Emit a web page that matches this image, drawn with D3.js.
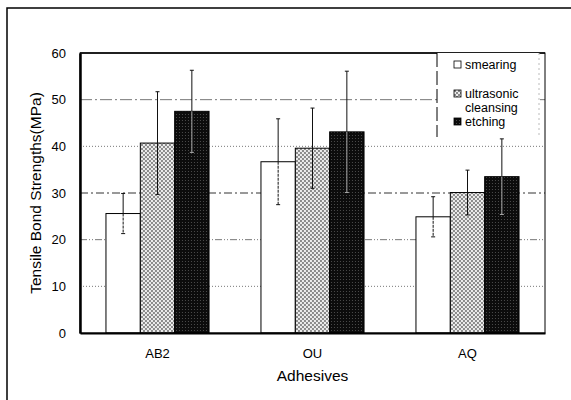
<!DOCTYPE html>
<html>
<head>
<meta charset="utf-8">
<script src="https://cdn.jsdelivr.net/npm/d3@7"></script>
<style>
  body { margin: 0; background: #fff; }
  svg { font-family: "Liberation Sans", Arial, sans-serif; }
</style>
</head>
<body>
<div class="chart"></div>
<script>
// data
const adhesives = ["AB2", "OU", "AQ"];
const methods = ["smearing", "ultrasonic cleansing", "etching"];
const smearing = [25.6, 36.7, 24.9];
const ultrasonic = [40.7, 39.6, 30.1];
const etching = [47.5, 43.1, 33.5];
const smearingSD = [4.3, 9.2, 4.3];
const ultrasonicSD = [11.0, 8.6, 4.8];
const etchingSD = [8.8, 13.0, 8.1];
const yTicks = [0, 10, 20, 30, 40, 50, 60];

const W = 571, H = 400;
const margin = ({top: 53, right: 26, bottom: 67, left: 80});
const w = W - margin.left - margin.right,
      h = H - margin.top - margin.bottom;

const svg = d3.select(".chart").append("svg")
    .attr("width", W).attr("height", H);

// patterns for the fills
const defs = svg.append("defs");
const hatch = defs.append("pattern")
    .attr("id", "hatch").attr("patternUnits", "userSpaceOnUse")
    .attr("width", 4).attr("height", 4);
hatch.append("rect").attr("width", 4).attr("height", 4).attr("fill", "#ececec");
hatch.append("path").attr("d", "M0,0L4,4M4,0L0,4")
    .attr("stroke", "#808080").attr("stroke-width", 0.9);

const dark = defs.append("pattern")
    .attr("id", "dark").attr("patternUnits", "userSpaceOnUse")
    .attr("width", 3).attr("height", 3);
dark.append("rect").attr("width", 3).attr("height", 3).attr("fill", "#0c0c0c");
dark.append("rect").attr("x", 1).attr("y", 1).attr("width", 1).attr("height", 1).attr("fill", "#4a4a4a");

const fills = ["#fff", "url(#hatch)", "url(#dark)"];

// outer frame (left + top only)
svg.append("path").attr("d", `M7,400V8H571`)
    .attr("fill", "none").attr("stroke", "#000").attr("stroke-width", 1.5);

const g = svg.append("g")
    .attr("transform", `translate(${margin.left},${margin.top})`);

// scales
const x0 = d3.scaleBand().domain(adhesives).range([0, w])
    .paddingInner(0.335).paddingOuter(0.1675);
const x1 = d3.scaleBand().domain(methods).range([0, x0.bandwidth()]);
const y = d3.scaleLinear().domain([0, 60]).range([h, 0]);

// grid lines
const dashes = {10: "1,2", 20: "7,2,1,2,1,2", 30: "8,3,2,3", 40: "1,2", 50: "12,3,2,3"};
g.selectAll(".grid").data(yTicks.filter(d => d > 0 && d < 60)).enter()
    .append("line").attr("class", "grid")
    .attr("x1", 0).attr("x2", w)
    .attr("y1", d => y(d)).attr("y2", d => y(d))
    .attr("stroke", d => d === 30 ? "#333" : "#777")
    .attr("stroke-width", 1)
    .attr("stroke-dasharray", d => dashes[d]);

// bars
const rows = adhesives.map((a, i) => ({
  adhesive: a,
  vals: [
    {m: methods[0], v: smearing[i], sd: smearingSD[i], s: 0},
    {m: methods[1], v: ultrasonic[i], sd: ultrasonicSD[i], s: 1},
    {m: methods[2], v: etching[i], sd: etchingSD[i], s: 2}
  ]
}));

const groups = g.selectAll(".grp").data(rows).enter()
    .append("g").attr("class", "grp")
    .attr("transform", d => `translate(${x0(d.adhesive)},0)`);

groups.selectAll("rect").data(d => d.vals).enter()
    .append("rect")
    .attr("x", d => x1(d.m))
    .attr("width", x1.bandwidth())
    .attr("y", d => y(d.v))
    .attr("height", d => h - y(d.v))
    .attr("fill", d => fills[d.s])
    .attr("stroke", "#000")
    .attr("stroke-width", 1);

// error bars
const eb = groups.selectAll(".err").data(d => d.vals).enter()
    .append("g").attr("class", "err")
    .attr("transform", d => `translate(${x1(d.m) + x1.bandwidth() / 2},0)`);
eb.append("line")
    .attr("y1", d => y(d.v)).attr("y2", d => y(d.v + d.sd))
    .attr("stroke", "#111");
eb.append("line")
    .attr("y1", d => y(d.v)).attr("y2", d => y(d.v - d.sd))
    .attr("stroke", d => d.s === 2 ? "#aaa" : "#111")
    .attr("stroke-dasharray", d => d.s === 0 ? "3,1" : null);
eb.append("line")
    .attr("x1", -2).attr("x2", 2)
    .attr("y1", d => y(d.v + d.sd)).attr("y2", d => y(d.v + d.sd))
    .attr("stroke", "#111");
eb.append("line")
    .attr("x1", -2).attr("x2", 2)
    .attr("y1", d => y(d.v - d.sd)).attr("y2", d => y(d.v - d.sd))
    .attr("stroke", d => d.s === 2 ? "#aaa" : "#111");

// plot frame
g.append("rect").attr("width", w).attr("height", h)
    .attr("fill", "none").attr("stroke", "#000").attr("stroke-width", 1);
g.append("line").attr("x2", w).attr("stroke", "#000").attr("stroke-width", 1.5);

// axes
const yAxis = d3.axisLeft(y).tickValues(yTicks).tickSize(0).tickPadding(14);
g.append("g").attr("class", "axis y-axis").call(yAxis)
    .call(s => s.select(".domain").attr("stroke-width", 2.5))
    .selectAll("text").attr("font-size", 13).attr("fill", "#000");

const xAxis = d3.axisBottom(x0).tickSize(0).tickPadding(16);
g.append("g").attr("class", "axis x-axis")
    .attr("transform", `translate(0,${h})`).call(xAxis)
    .call(s => s.select(".domain").attr("stroke-width", 2))
    .selectAll("text").attr("font-size", 13).attr("fill", "#000");

// axis titles
svg.append("text")
    .attr("transform", `translate(41,${margin.top + h / 2}) rotate(-90)`)
    .attr("text-anchor", "middle")
    .attr("font-size", 15.5)
    .text("Tensile Bond Strengths(MPa)");

svg.append("text")
    .attr("x", margin.left + w / 2).attr("y", 381)
    .attr("text-anchor", "middle")
    .attr("font-size", 15.5)
    .text("Adhesives");

// legend
const lg = svg.append("g").attr("transform", "translate(437,53)");
lg.append("rect").attr("width", 102).attr("height", 84).attr("fill", "#fff");
lg.append("line").attr("y1", 0).attr("y2", 84)
    .attr("stroke", "#000").attr("stroke-dasharray", "14,4");
lg.append("line").attr("x1", 102).attr("x2", 102).attr("y1", 0).attr("y2", 84)
    .attr("stroke", "#bbb").attr("stroke-dasharray", "2,3");

const legendItems = [
  {lines: ["smearing"], y: 12, s: 0},
  {lines: ["ultrasonic", "cleansing"], y: 41, s: 1},
  {lines: ["etching"], y: 69, s: 2}
];
legendItems.forEach(it => {
  lg.append("rect")
      .attr("x", 17).attr("y", it.y - 4).attr("width", 7).attr("height", 7)
      .attr("fill", fills[it.s]).attr("stroke", "#000").attr("stroke-width", 0.8);
  it.lines.forEach((t, j) => {
    lg.append("text")
        .attr("x", 28).attr("y", it.y + j * 14)
        .attr("dy", "0.35em")
        .attr("font-size", 12.5)
        .text(t);
  });
});
</script>
</body>
</html>
